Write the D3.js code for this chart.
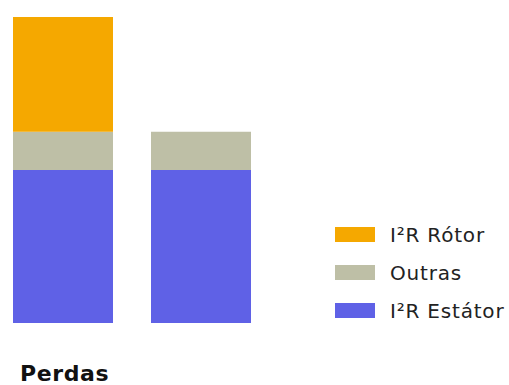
<!DOCTYPE html>
<html><head><meta charset="utf-8">
<script src="https://cdn.jsdelivr.net/npm/d3@7"></script>
<style>html,body{margin:0;padding:0;background:#fff;}svg{display:block;}</style>
</head><body>
<svg id="c" width="509" height="385"></svg>
<script>
const categories = ["Motor A", "Motor B"];
const seriesNames = ["I²R Estátor", "Outras", "I²R Rótor"];
const estator = [40, 40];
const outras = [10, 10];
const rotor = [30, 0];
const colors = ["#5F61E6", "#BEBFA6", "#F5A800"];
const axisTitle = "Perdas";

const svg = d3.select("#c");
const data = categories.map((c, i) => ({cat: c, "I²R Estátor": estator[i], "Outras": outras[i], "I²R Rótor": rotor[i]}));
const stack = d3.stack().keys(seriesNames)(data);

const x = d3.scaleBand().domain(categories).range([13, 251]).paddingInner(38/138).paddingOuter(0);
const y = d3.scaleLinear().domain([0, 80]).range([323, 17]);
const color = d3.scaleOrdinal().domain(seriesNames).range(colors);

svg.append("g").selectAll("g").data(stack).join("g")
  .attr("fill", d => color(d.key))
  .selectAll("rect").data(d => d).join("rect")
  .attr("x", d => x(d.data.cat))
  .attr("width", x.bandwidth())
  .attr("y", d => y(d[1]))
  .attr("height", d => y(d[0]) - y(d[1]));

svg.append("text").attr("x", 20).attr("y", 381)
  .attr("font-family", "DejaVu Sans").attr("font-weight", "bold").attr("font-size", 22)
  .attr("letter-spacing", 0.6)
  .attr("fill", "#111").text(axisTitle);

const legendOrder = ["I²R Rótor", "Outras", "I²R Estátor"];
const lg = svg.append("g");
legendOrder.forEach((k, i) => {
  const cy = 234.5 + i * 38;
  lg.append("rect").attr("x", 335).attr("y", cy - 7.5).attr("width", 40).attr("height", 15).attr("fill", color(k));
  lg.append("text").attr("x", 390).attr("y", cy + 7.5)
    .attr("font-family", "DejaVu Sans").attr("font-size", 20).attr("letter-spacing", 0.8)
    .attr("fill", "#222").text(k);
});
</script>
</body></html>
